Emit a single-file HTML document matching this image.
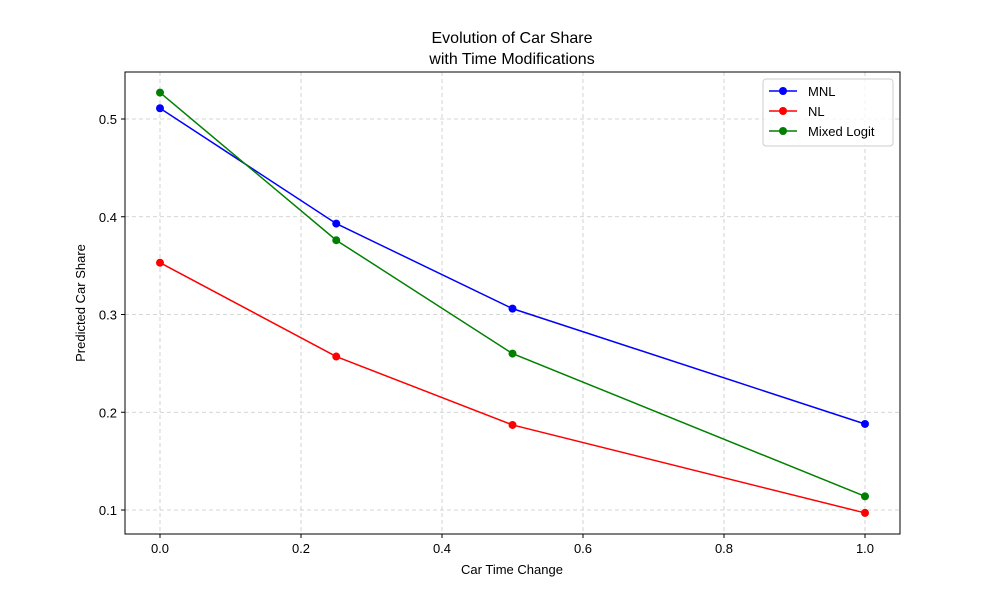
<!DOCTYPE html>
<html><head><meta charset="utf-8"><style>
body{margin:0;background:#fff;}
svg{font-family:"Liberation Sans","DejaVu Sans",sans-serif;}
</style></head><body>
<svg id="chart" width="1000" height="600" xmlns="http://www.w3.org/2000/svg">
<rect width="1000" height="600" fill="#fff"/>
<text x="512" y="43" text-anchor="middle" font-size="16">Evolution of Car Share</text>
<text x="512" y="64" text-anchor="middle" font-size="16">with Time Modifications</text>
<g id="grid"></g>
<g id="axes"></g>
<g id="series"></g>
<rect x="125" y="72" width="775" height="462" fill="none" stroke="#000" stroke-width="1"/>
<text x="512" y="574" text-anchor="middle" font-size="13">Car Time Change</text>
<text x="0" y="0" transform="translate(85,303) rotate(-90)" text-anchor="middle" font-size="13">Predicted Car Share</text>
<g>
<rect x="763" y="79" width="130" height="67" rx="3" fill="#fff" fill-opacity="0.8" stroke="#ccc"/>
<g><line x1="769" y1="91" x2="797" y2="91" stroke="blue" stroke-width="1.5"/><circle cx="783" cy="91" r="4" fill="blue"/><text x="808" y="96" font-size="13">MNL</text></g>
<g><line x1="769" y1="111" x2="797" y2="111" stroke="red" stroke-width="1.5"/><circle cx="783" cy="111" r="4" fill="red"/><text x="808" y="116" font-size="13">NL</text></g>
<g><line x1="769" y1="131" x2="797" y2="131" stroke="green" stroke-width="1.5"/><circle cx="783" cy="131" r="4" fill="green"/><text x="808" y="136" font-size="13">Mixed Logit</text></g>
</g>
</svg>
<script>
const xValues=[0,0.25,0.5,1.0];
const mnlValues=[0.511,0.393,0.306,0.188];
const nlValues=[0.353,0.257,0.187,0.097];
const mixedValues=[0.527,0.376,0.260,0.114];
const xTicks=[0,0.2,0.4,0.6,0.8,1.0];
const xTickLabels=["0.0","0.2","0.4","0.6","0.8","1.0"];
const yTicks=[0.1,0.2,0.3,0.4,0.5];
const yTickLabels=["0.1","0.2","0.3","0.4","0.5"];
const NS="http://www.w3.org/2000/svg";
function xs(v){return 160+v*705;}
function ys(v){return 510-(v-0.1)*977.5;}
function mk(tag,attrs,parent){const e=document.createElementNS(NS,tag);for(const k in attrs)e.setAttribute(k,attrs[k]);parent.appendChild(e);return e;}
const grid=document.getElementById('grid'),axes=document.getElementById('axes'),series=document.getElementById('series');
xTicks.forEach((t,i)=>{const x=xs(t);
 const g=mk('line',{x1:x,x2:x,y1:72,y2:534,stroke:'#b0b0b0','stroke-width':0.8,'stroke-dasharray':'4,3','stroke-opacity':0.7},grid);
 
 
 mk('line',{x1:x,x2:x,y1:534,y2:538,stroke:'#000'},axes);
 const tx=mk('text',{x:x,y:553,'text-anchor':'middle','font-size':13},axes);tx.textContent=xTickLabels[i];
 
 
});
yTicks.forEach((t,i)=>{const y=ys(t);
 const g=mk('line',{x1:125,x2:900,y1:y,y2:y,stroke:'#b0b0b0','stroke-width':0.8,'stroke-dasharray':'4,3','stroke-opacity':0.7},grid);
 
 
 mk('line',{x1:121,x2:125,y1:y,y2:y,stroke:'#000'},axes);
 const tx=mk('text',{x:117,y:y+5,'text-anchor':'end','font-size':13},axes);tx.textContent=yTickLabels[i];
 
 
});
function draw(vals,color,name){
 const g=mk('g',{},series);
 
 
 const pl=mk('polyline',{points:vals.map((v,i)=>xs(xValues[i])+','+ys(v)).join(' '),fill:'none',stroke:color,'stroke-width':1.5},g);
 
 
 vals.forEach((v,i)=>{const c=mk('circle',{cx:xs(xValues[i]),cy:ys(v),r:4,fill:color},g);
  
  });
}
draw(mnlValues,'blue','mnl-series');
draw(nlValues,'red','nl-series');
draw(mixedValues,'green','mixed-logit-series');
</script>
</body></html>
